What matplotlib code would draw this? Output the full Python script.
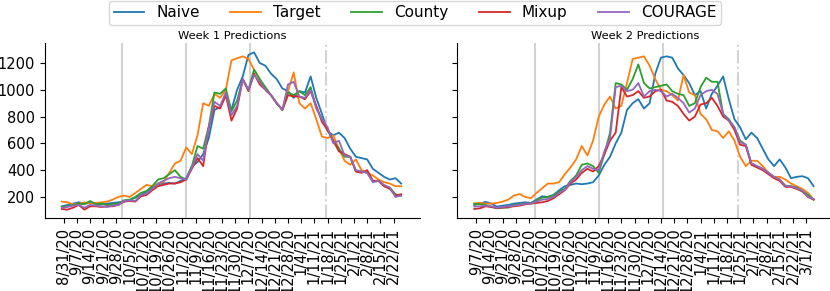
import pandas as pd
import matplotlib
matplotlib.use("Agg")
import matplotlib.pyplot as plt

# daily values read every 3 days from the picture
w1_start = "2020-08-30"
w2_start = "2020-09-06"
step = "3D"

w1_naive = [130, 140, 150, 160, 150, 155, 150, 145, 150, 155, 160, 165, 175, 195, 215, 240, 270, 295, 300, 305,
            300, 320, 340, 430, 460, 520, 640, 850, 870, 960, 850, 1000, 1100, 1260, 1280, 1200, 1180, 1120, 1080,
            1010, 990, 940, 990, 980, 1100, 940, 820, 690, 660, 680, 640, 560, 500, 490, 480, 410, 380, 350, 330,
            340, 300]
w1_target = [165, 160, 145, 150, 160, 150, 155, 160, 165, 180, 200, 210, 200, 230, 260, 290, 280, 300, 310, 380,
             450, 470, 570, 520, 660, 900, 880, 970, 940, 1000, 1220, 1235, 1250, 1230, 1150, 1080, 1000, 960, 900,
             850, 990, 1130, 900, 860, 900, 780, 650, 640, 660, 560, 470, 440, 480, 400, 380, 360, 330, 310, 300,
             280, 280]
w1_county = [125, 130, 140, 150, 145, 170, 145, 150, 140, 145, 150, 175, 180, 200, 230, 245, 280, 330, 340, 370,
             400, 350, 330, 430, 580, 560, 730, 980, 970, 1010, 840, 920, 1080, 1000, 1150, 1080, 1020, 960, 900,
             850, 980, 960, 990, 960, 1020, 870, 780, 700, 620, 560, 500, 500, 390, 390, 380, 320, 320, 280, 270,
             220, 210]
w1_mixup = [110, 105, 120, 140, 105, 130, 130, 125, 130, 130, 140, 165, 170, 165, 205, 215, 250, 280, 290, 300,
            300, 310, 330, 410, 490, 430, 720, 880, 860, 960, 770, 860, 1080, 990, 1120, 1040, 1000, 960, 900,
            850, 960, 950, 950, 930, 990, 880, 760, 700, 620, 540, 520, 500, 390, 380, 400, 320, 320, 280, 260,
            210, 220]
w1_courage = [120, 125, 135, 140, 120, 140, 135, 130, 125, 135, 140, 170, 175, 170, 215, 225, 260, 300, 320, 340,
              350, 340, 330, 420, 520, 470, 720, 910, 880, 980, 810, 880, 1080, 1000, 1110, 1060, 1000, 960, 900,
              850, 1040, 1060, 950, 940, 1000, 860, 780, 720, 600, 620, 510, 500, 400, 390, 380, 310, 320, 290, 270,
              200, 210]

w2_naive = [140, 150, 163, 150, 128, 135, 140, 150, 155, 160, 155, 180, 205, 200, 215, 250, 280, 290, 300, 295,
            300, 310, 360, 440, 500, 600, 680, 850, 900, 930, 860, 900, 1120, 1240, 1250, 1240, 1160, 1110, 1050,
            960, 990, 860, 970, 1030, 1100, 930, 780, 720, 630, 680, 640, 560, 480, 430, 480, 420, 340, 350, 355,
            340, 280]
w2_target = [153, 155, 150, 150, 155, 165, 180, 210, 222, 200, 190, 230, 265, 300, 300, 310, 370, 420, 480, 580,
             510, 620, 800, 890, 950, 860, 880, 1050, 1230, 1240, 1250, 1180, 1080, 1000, 990, 960, 920, 1110, 980,
             960, 820, 780, 700, 690, 640, 690, 620, 500, 430, 470, 470, 430, 380, 350, 350, 330, 300, 280, 260,
             230, 180]
w2_county = [148, 145, 140, 125, 115, 120, 120, 140, 145, 150, 150, 175, 195, 200, 210, 240, 260, 320, 360, 440,
             450, 430, 380, 520, 680, 1050, 1040, 1000, 1080, 1190, 1050, 1010, 1020, 1030, 1040, 990, 970, 960,
             880, 900, 1020, 1090, 1060, 1060, 820, 780, 720, 620, 590, 450, 430, 410, 380, 350, 330, 285, 280, 270,
             245, 215, 180]
w2_mixup = [110, 115, 130, 125, 118, 120, 125, 130, 135, 145, 150, 155, 160, 170, 190, 220, 250, 300, 330, 380,
            410, 390, 430, 520, 620, 680, 1020, 950, 960, 990, 940, 950, 990, 1000, 920, 910, 880, 820, 770, 800,
            890, 900, 940, 880, 800, 770, 700, 590, 580, 440, 420, 400, 370, 340, 320, 275, 275, 260, 240, 200, 180]
w2_courage = [128, 130, 135, 130, 120, 125, 130, 135, 140, 150, 150, 165, 180, 185, 200, 230, 255, 310, 350, 400,
              430, 410, 400, 540, 640, 1020, 1030, 990, 1000, 1050, 950, 990, 1000, 990, 950, 970, 940, 900, 830,
              860, 960, 990, 1000, 970, 820, 770, 720, 610, 590, 450, 430, 410, 380, 350, 330, 280, 280, 265, 245,
              200, 185]

names = ["Naive", "Target", "County", "Mixup", "COURAGE"]
colors = ["tab:blue", "tab:orange", "tab:green", "tab:red", "tab:purple"]

panels = [
    ("Week 1 Predictions", w1_start, [w1_naive, w1_target, w1_county, w1_mixup, w1_courage],
     "2020-08-31", "2021-02-22", ["2020-10-01", "2020-11-04", "2020-12-08"], "2021-01-17",
     ("2020-08-21", "2021-03-08")),
    ("Week 2 Predictions", w2_start, [w2_naive, w2_target, w2_county, w2_mixup, w2_courage],
     "2020-09-07", "2021-03-01", ["2020-10-08", "2020-11-11", "2020-12-15"], "2021-01-24",
     ("2020-08-28", "2021-03-15")),
]

fig = plt.figure(figsize=(8.3, 2.91), dpi=100)
ax1 = fig.add_axes([0.054, 0.251, 0.452, 0.601])
ax2 = fig.add_axes([0.551, 0.251, 0.452, 0.601], sharey=ax1)

for ax, (title, start, series, t0, t1, vlines, dash, lims) in zip([ax1, ax2], panels):
    dates = pd.date_range(start, periods=len(series[0]), freq=step)
    for d in vlines:
        ax.axvline(pd.Timestamp(d), color="lightgray", lw=1.5, zorder=0)
    ax.axvline(pd.Timestamp(dash), color="lightgray", lw=1.5, ls="-.", zorder=0)
    for vals, name, c in zip(series, names, colors):
        ax.plot(dates, vals, color=c, lw=1.3, label=name)
    ticks = pd.date_range(t0, t1, freq="7D")
    ax.set_xticks(ticks)
    ax.set_xticklabels([f"{t.month}/{t.day}/{t.strftime('%y')}" for t in ticks], rotation=90, fontsize=10.5)
    ax.set_xlim(pd.Timestamp(lims[0]), pd.Timestamp(lims[1]))
    ax.set_title(title, fontsize=8.2, pad=3)
    ax.spines["top"].set_visible(False)
    ax.spines["right"].set_visible(False)
    ax.tick_params(axis="y", labelsize=10.5)

ax1.set_ylim(43, 1349)
ax1.set_yticks([200, 400, 600, 800, 1000, 1200])
ax2.tick_params(axis="y", labelleft=False)

h, l = ax1.get_legend_handles_labels()
fig.legend(h, l, loc="upper center", bbox_to_anchor=(0.5, 1.0), ncol=5, fontsize=11,
           borderpad=0.3, borderaxespad=0.05)

fig.savefig("out.png", dpi=100)
